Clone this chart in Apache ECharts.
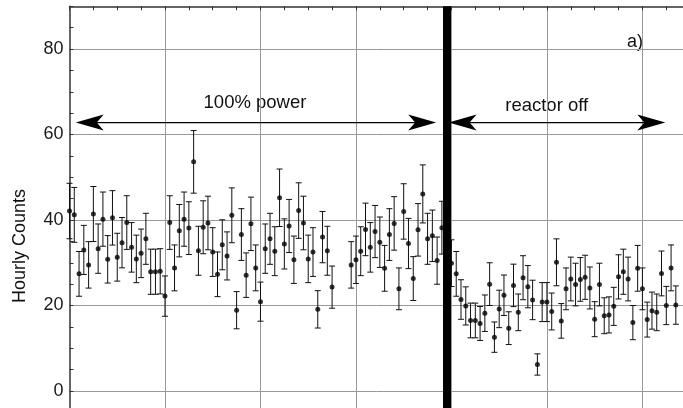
<!DOCTYPE html>
<html><head><meta charset="utf-8">
<script src="https://cdn.jsdelivr.net/npm/echarts@6/dist/echarts.min.js"></script>
<style>html,body{margin:0;padding:0;background:#fff}#c{width:683px;height:408px}</style>
</head><body><div id="c"></div>
<script>
// ---- data (hourly counts) ----
const powerOnStartHour = 0;
const powerOnCounts = [
  42.1, 41.2, 27.4, 33.0, 29.5, 41.4, 33.3, 40.2, 30.8, 40.5,
  31.3, 34.7, 39.4, 33.6, 30.9, 32.2, 35.6, 27.9, 27.9, 28.0,
  22.2, 39.4, 28.8, 37.5, 40.2, 38.1, 53.6, 32.8, 38.3, 39.3,
  32.5, 27.3, 34.2, 31.6, 41.1, 18.9, 36.6, 27.1, 39.1, 28.8,
  20.9, 33.3, 35.6, 32.7, 45.2, 34.4, 38.6, 30.7, 42.2, 39.3,
  30.9, 32.5, 19.1, 36.0, 32.8, 24.3, null, null, null, 29.5,
  30.7, 32.7, 37.8, 33.6, 37.3, 34.8, 28.7, 36.6, 39.2, 23.9,
  42.0, 34.5, 26.3, 37.7, 46.1, 35.6, 36.3, 30.5, 38.2
];
const reactorOffStartHour = 80;
const reactorOffCounts = [
  29.9, 27.4, 21.4, 19.9, 16.5, 16.5, 15.8, 18.2, 25.0, 12.6,
  19.2, 22.4, 14.7, 24.7, 18.4, 26.5, 24.4, 21.3, 6.2, 20.8,
  20.8, 18.6, 30.1, 16.4, 23.9, 26.2, 24.9, 26.1, 26.6, 24.1,
  16.8, 24.9, 17.6, 17.8, 19.8, 26.7, 27.9, 26.2, 16.0, 28.7,
  23.9, 16.7, 18.8, 18.4, 27.5, 20.0, 28.8, 20.1
];
const reactorOffHour = 79;
const yTickLabels = [0, 20, 40, 60, 80];
const annotationLabels = ['100% power', 'reactor off', 'a)'];
const annotationArrows = [[1.3, 76.8, 62.8], [79.4, 124.8, 62.8]];

// Poisson errors: sqrt(counts)
function toPoints(start, arr) {
  const out = [];
  arr.forEach((v, i) => { if (v != null) out.push([start + i, v, Math.sqrt(v)]); });
  return out;
}
const points = toPoints(powerOnStartHour, powerOnCounts).concat(toPoints(reactorOffStartHour, reactorOffCounts));

const FONT = '"Liberation Sans", Arial, Helvetica, sans-serif';
const chart = echarts.init(document.getElementById('c'), null, { renderer: 'canvas' });

const option = {
  animation: false,
  backgroundColor: '#fff',
  grid: { left: 69.5, right: 0, top: 6.25, height: 470.25, containLabel: false, outerBoundsMode: 'none' },
  xAxis: [
    { type: 'value', min: 0, max: 128.5, interval: 20, position: 'bottom',
      axisLine: { show: false, onZero: false }, axisTick: { show: false }, axisLabel: { show: false },
      splitLine: { show: true, showMinLine: false, showMaxLine: false, lineStyle: { color: '#999', width: 1 } } },
    { type: 'value', min: 0, max: 128.5, interval: 5, position: 'top',
      axisLine: { show: true, onZero: false, lineStyle: { color: '#333', width: 1.5 } },
      axisTick: { show: true, inside: true, length: 4, lineStyle: { color: '#333', width: 1 } },
      axisLabel: { show: false }, splitLine: { show: false } }
  ],
  yAxis: [
    { type: 'value', min: -20, max: 90, interval: 20, position: 'left',
      axisLine: { show: true, onZero: false, lineStyle: { color: '#333', width: 1.5 } },
      axisTick: { show: false },
      axisLabel: { fontSize: 18, color: '#1a1a1a', fontFamily: FONT, margin: 6, showMaxLabel: false,
        formatter: v => (yTickLabels.includes(v) ? String(v) : '') },
      splitLine: { show: true, showMaxLine: false, lineStyle: { color: '#999', width: 1 } } },
    { type: 'value', min: -20, max: 90, interval: 5, position: 'left',
      axisLine: { show: false, onZero: false },
      axisTick: { show: true, inside: true, length: 4, lineStyle: { color: '#333', width: 1 } },
      axisLabel: { show: false }, splitLine: { show: false } }
  ],
  series: [
    { type: 'custom', name: 'errors', xAxisIndex: 0, yAxisIndex: 0, data: points,
      encode: { x: 0, y: 1 }, silent: true, z: 3,
      renderItem: function (params, api) {
        const x = api.value(0), v = api.value(1), e = api.value(2);
        const lo = api.coord([x, v - e]), hi = api.coord([x, v + e]);
        const cw = 3;
        const st = { stroke: '#111', lineWidth: 1 };
        return { type: 'group', children: [
          { type: 'line', shape: { x1: lo[0], y1: lo[1], x2: hi[0], y2: hi[1] }, style: st },
          { type: 'line', shape: { x1: lo[0] - cw, y1: lo[1], x2: lo[0] + cw, y2: lo[1] }, style: st },
          { type: 'line', shape: { x1: hi[0] - cw, y1: hi[1], x2: hi[0] + cw, y2: hi[1] }, style: st }
        ] };
      } },
    { type: 'scatter', name: 'counts', xAxisIndex: 0, yAxisIndex: 0,
      data: points.map(p => [p[0], p[1]]), symbol: 'circle', symbolSize: 5,
      itemStyle: { color: '#000' }, z: 4, silent: true,
      markLine: { silent: true, symbol: 'none', animation: false,
        label: { show: false },
        lineStyle: { color: '#000', width: 8, type: 'solid' },
        data: [{ xAxis: reactorOffHour }] } },
    { type: 'custom', name: 'arrows', xAxisIndex: 0, yAxisIndex: 0, data: annotationArrows,
      encode: { x: [0, 1], y: 2 }, silent: true, z: 5,
      renderItem: function (params, api) {
        const a = api.coord([api.value(0), api.value(2)]);
        const b = api.coord([api.value(1), api.value(2)]);
        const L = 28, W = 8, N = 21;
        const fill = { fill: '#000' };
        return { type: 'group', children: [
          { type: 'line', shape: { x1: a[0] + N, y1: a[1], x2: b[0] - N, y2: b[1] }, style: { stroke: '#000', lineWidth: 1.3 } },
          { type: 'polygon', shape: { points: [[a[0], a[1]], [a[0] + L, a[1] - W], [a[0] + N, a[1]], [a[0] + L, a[1] + W]] }, style: fill },
          { type: 'polygon', shape: { points: [[b[0], b[1]], [b[0] - L, b[1] - W], [b[0] - N, b[1]], [b[0] - L, b[1] + W]] }, style: fill }
        ] };
      } }
  ],
  graphic: [
    { type: 'text', x: 255, y: 103, style: { text: annotationLabels[0], font: '18.5px ' + FONT, fill: '#111', textAlign: 'center', textVerticalAlign: 'middle' } },
    { type: 'text', x: 546.7, y: 106, style: { text: annotationLabels[1], font: '18.5px ' + FONT, fill: '#111', textAlign: 'center', textVerticalAlign: 'middle' } },
    { type: 'text', x: 643, y: 42, style: { text: annotationLabels[2], font: '18px ' + FONT, fill: '#111', textAlign: 'right', textVerticalAlign: 'middle' } },
    { type: 'text', x: 20, y: 246, rotation: Math.PI / 2, style: { text: 'Hourly Counts', font: '18px ' + FONT, fill: '#111', textAlign: 'center', textVerticalAlign: 'middle' } }
  ]
};
chart.setOption(option);
</script>
</body></html>
